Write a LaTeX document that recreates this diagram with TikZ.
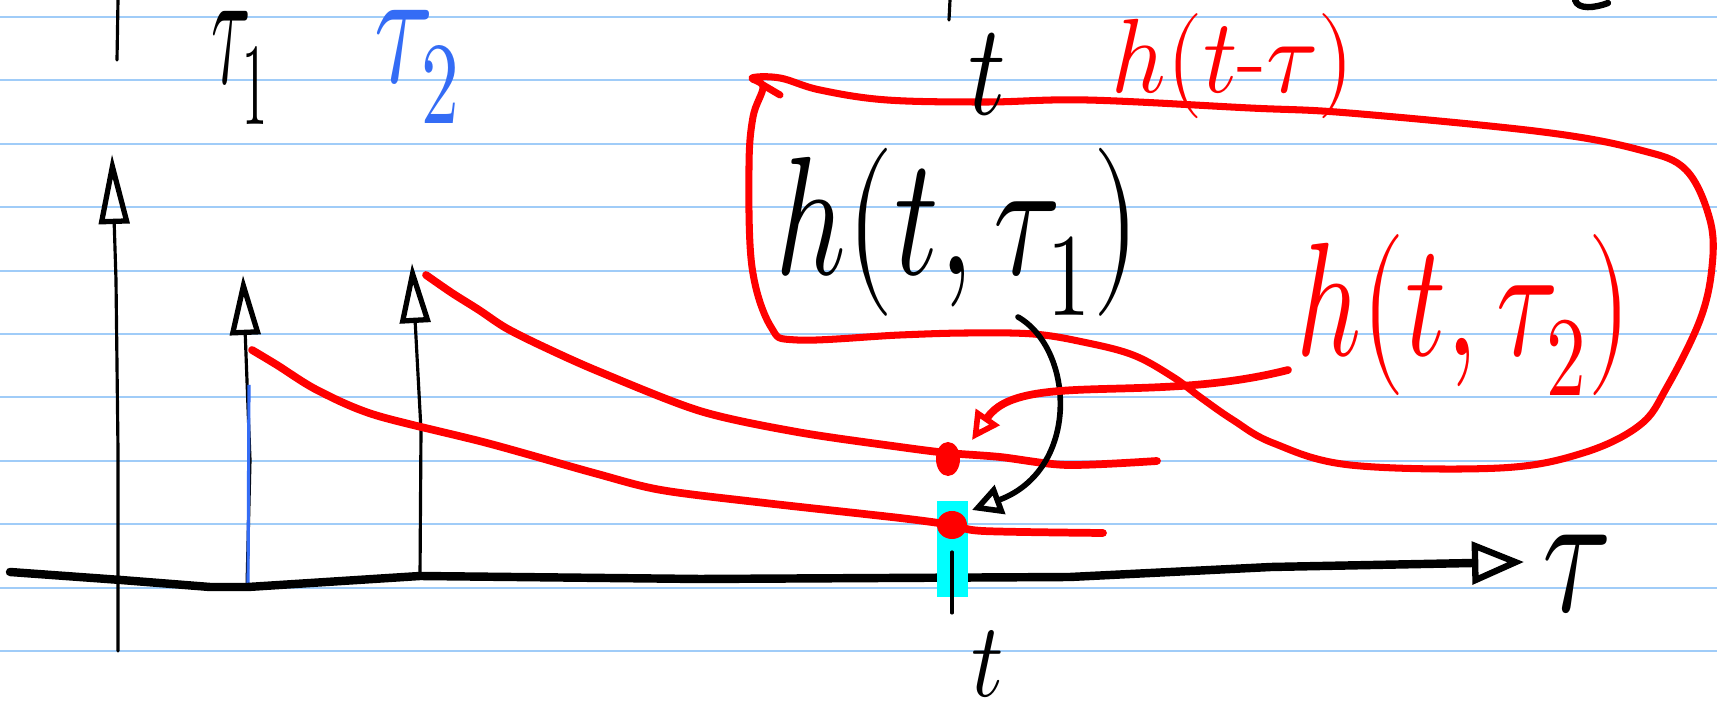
\documentclass[tikz,border=0pt]{standalone}
\usepackage{graphicx}
\usepackage{unicode-math}
\usetikzlibrary{arrows.meta}
\definecolor{ruled}{RGB}{160,204,248}
\definecolor{penred}{RGB}{255,0,0}
\definecolor{penblue}{RGB}{52,108,245}
\definecolor{marker}{RGB}{0,255,255}
\tikzset{
  ink/.style={line cap=round, line join=round},
  lbl/.style={inner sep=0pt, anchor=center},
  thinpen/.style={ink, line width=0.9pt},
  redpen/.style={ink, penred, line width=2.2pt},
  opentip/.style={-{Triangle[open, length=#1, width=0.3cm, line width=1.5pt]}},
}

\begin{document}
\begin{tikzpicture}[x=0.01cm, y=-0.01cm, >=stealth]
  \useasboundingbox[fill=white] (0,0) rectangle (1717,704);
  \foreach \k in {0,...,10}
    \draw[ruled, line width=0.6pt] (0,{17+63.4*\k}) -- (1717,{17+63.4*\k});

  \draw[thinpen] (118,0) -- (117,60);
  \draw[thinpen] (950,0) -- (949,20);
  \draw[ink, line width=1.8pt] (1575,0) .. controls (1578,10) and (1595,8) .. (1608,3);

  \draw[thinpen, opentip=0.7cm] (118,651) -- (118,450) -- (116,280) -- (112,154);
  \draw[thinpen, opentip=0.6cm] (247,587) -- (250,460) -- (243,275);
  \draw[penblue, line width=0.9pt] (249,385) -- (248,590);
  \draw[thinpen, opentip=0.6cm] (420,577) -- (421,430) -- (412,263);

  \draw[ink, line width=2.4pt, -{Triangle[open, length=0.52cm, width=0.42cm, line width=1.8pt]}]
    (10,572) -- (121,580) -- (210,587) -- (248,587) -- (420,576) -- (700,579)
    -- (1070,577) -- (1271,567) -- (1524,562);

  \fill[marker] (937,501) rectangle (968,597);

  \draw[redpen] plot[smooth] coordinates {(252,350) (277,365) (317,390) (375,415) (487,443)
    (594,473) (661,490) (765,503) (900,518) (952,525) (983,531) (1103,533)};
  \draw[redpen] plot[smooth] coordinates {(426,275) (452,293) (479,310) (506,328) (544,347)
    (600,372) (700,411) (797,432) (900,447) (948,453) (1000,457) (1067,465) (1157,461)};

  \coordinate (dotB) at (948,459);
  \coordinate (dotA) at (952,525);
  \fill[penred] (dotB) ellipse [x radius=0.12cm, y radius=0.17cm];
  \fill[penred] (dotA) ellipse [x radius=0.15cm, y radius=0.14cm];
  \draw[thinpen] (952,552) -- (952,613);

  \draw[ink, penred, line width=2pt] plot[smooth cycle, tension=0.6] coordinates {
    (752,78) (780,78) (820,90) (887,100) (987,102) (1087,100) (1250,108) (1349,113)
    (1543,132) (1640,150) (1686,170) (1710,220) (1712,267) (1700,320) (1667,387)
    (1640,425) (1583,453) (1500,468) (1350,465) (1273,443) (1233,420) (1200,397)
    (1173,377) (1133,355) (1083,342) (1033,334) (967,333) (900,335) (797,340)
    (771,327) (752,267) (749,167) (753,117) (763,87)};
  \draw[ink, penred, line width=2pt] (763,85) -- (780,95);

  \coordinate (armA) at (1018,317);
  \coordinate (tipA) at (972,510);
  \draw[ink, line width=1.6pt, -{Triangle[open, length=0.3cm, width=0.3cm, line width=1.6pt]}]
    (armA) .. controls (1075,350) and (1080,470) .. (tipA);
  \coordinate (armB) at (1288,370);
  \coordinate (tipB) at (972,440);
  \draw[redpen, -{Triangle[open, length=0.28cm, width=0.28cm, line width=1.6pt]}]
    (armB) .. controls (1150,405) and (1020,370) .. (tipB);

  \node[lbl, font=\fontsize{34}{34}\selectfont] (tauone) at (240,68) {\scalebox{0.6}[1.4]{$\tau_1$}};
  \node[lbl, text=penblue, font=\fontsize{34}{34}\selectfont] (tautwo) at (418,67) {\scalebox{0.9}[1.4]{$\tau_2$}};
  \node[lbl, font=\fontsize{37}{37}\selectfont] (ttop) at (987,74) {\scalebox{0.8}[1]{$t$}};
  \node[lbl, text=penred, font=\fontsize{30}{30}\selectfont] (hshift) at (1233,66) {\scalebox{0.9}[1]{$h(t\mbox{-}\tau)$}};
  \node[lbl, font=\fontsize{48}{48}\selectfont] (hone) at (958,232) {\scalebox{0.73}[1]{$h(t,\tau_1)$}};
  \node[lbl, text=penred, font=\fontsize{46}{46}\selectfont] (htwo) at (1464,315) {\scalebox{0.7}[1]{$h(t,\tau_2)$}};
  \node[lbl, font=\fontsize{36}{36}\selectfont] (taulbl) at (1577,574) {\scalebox{1}[1.4]{$\tau$}};
  \node[lbl, font=\fontsize{30}{30}\selectfont] (tbot) at (988,664) {\scalebox{0.85}[1]{$t$}};
\end{tikzpicture}
\end{document}
